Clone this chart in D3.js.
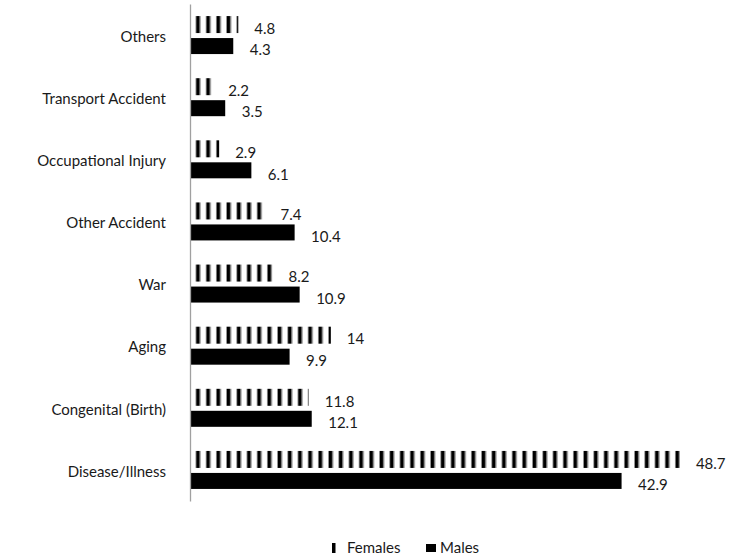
<!DOCTYPE html>
<html>
<head>
<meta charset="utf-8">
<script src="https://cdn.jsdelivr.net/npm/d3@7/dist/d3.min.js"></script>
<style>
  html, body { margin: 0; padding: 0; background: #fff; }
  svg { display: block; }
  text { font-family: Lato, "Open Sans", sans-serif; fill: #1a1a1a; }
</style>
</head>
<body>
<svg id="chart" width="742" height="560"></svg>
<script>
const categories = ["Others", "Transport Accident", "Occupational Injury", "Other Accident", "War", "Aging", "Congenital (Birth)", "Disease/Illness"];
const females = [4.8, 2.2, 2.9, 7.4, 8.2, 14, 11.8, 48.7];
const males = [4.3, 3.5, 6.1, 10.4, 10.9, 9.9, 12.1, 42.9];
const seriesNames = ["Females", "Males"];

const FS = 15;
const svg = d3.select("#chart");
const axisX = 190;

const x = d3.scaleLinear().domain([0, 50]).range([axisX, axisX + 503]);
const y = d3.scaleBand().domain(categories).range([4, 501]).paddingInner(0).paddingOuter(0);

// stripe pattern for females
const defs = svg.append("defs");
const pat = defs.append("pattern")
  .attr("id", "stripes")
  .attr("patternUnits", "userSpaceOnUse")
  .attr("x", 195.5).attr("y", 0)
  .attr("width", 10.2).attr("height", 10);
pat.append("rect").attr("x", 0).attr("y", 0).attr("width", 0.9).attr("height", 10).attr("fill", "#8c8c8c");
pat.append("rect").attr("x", 0.9).attr("y", 0).attr("width", 3.4).attr("height", 10).attr("fill", "#000");
pat.append("rect").attr("x", 4.3).attr("y", 0).attr("width", 0.9).attr("height", 10).attr("fill", "#8c8c8c");

const mid = c => y(c) + y.bandwidth() / 2;

// female bars
svg.append("g").selectAll("rect").data(categories).join("rect")
  .attr("x", axisX)
  .attr("y", (c) => mid(c) - 19)
  .attr("width", (c, i) => x(females[i]) - axisX)
  .attr("height", 17)
  .attr("fill", "url(#stripes)");

// male bars
svg.append("g").selectAll("rect").data(categories).join("rect")
  .attr("x", axisX)
  .attr("y", (c) => mid(c) + 3)
  .attr("width", (c, i) => x(males[i]) - axisX)
  .attr("height", 16)
  .attr("fill", "#000");

// value labels
svg.append("g").selectAll("text").data(categories).join("text")
  .attr("x", (c, i) => x(females[i]) + 16)
  .attr("y", (c) => mid(c) - 10.5 + 4)
  .attr("dy", "0.35em")
  .attr("font-size", FS)
  .text((c, i) => females[i]);
svg.append("g").selectAll("text").data(categories).join("text")
  .attr("x", (c, i) => x(males[i]) + 16.5)
  .attr("y", (c) => mid(c) + 11 + 4)
  .attr("dy", "0.35em")
  .attr("font-size", FS)
  .text((c, i) => males[i]);

// y axis
const yAxis = d3.axisLeft(y).tickSize(0).tickPadding(24);
const gy = svg.append("g").attr("transform", `translate(${axisX},0)`).call(yAxis);
gy.select(".domain").attr("stroke", "#a0a0a0").attr("stroke-width", 1.3);
gy.selectAll(".tick text")
  .attr("font-size", FS)
  .attr("font-family", "Lato, 'Open Sans', sans-serif")
  .attr("fill", "#1a1a1a")
  .attr("dy", "0.45em");

// legend
const legend = svg.append("g");
legend.append("rect").attr("x", 332).attr("y", 543).attr("width", 3.5).attr("height", 10).attr("fill", "#000");
legend.append("text").attr("x", 347).attr("y", 553).attr("font-size", FS).text(seriesNames[0]);
legend.append("rect").attr("x", 426).attr("y", 544).attr("width", 10).attr("height", 8).attr("fill", "#000");
legend.append("text").attr("x", 440).attr("y", 553).attr("font-size", FS).text(seriesNames[1]);
</script>
</body>
</html>
